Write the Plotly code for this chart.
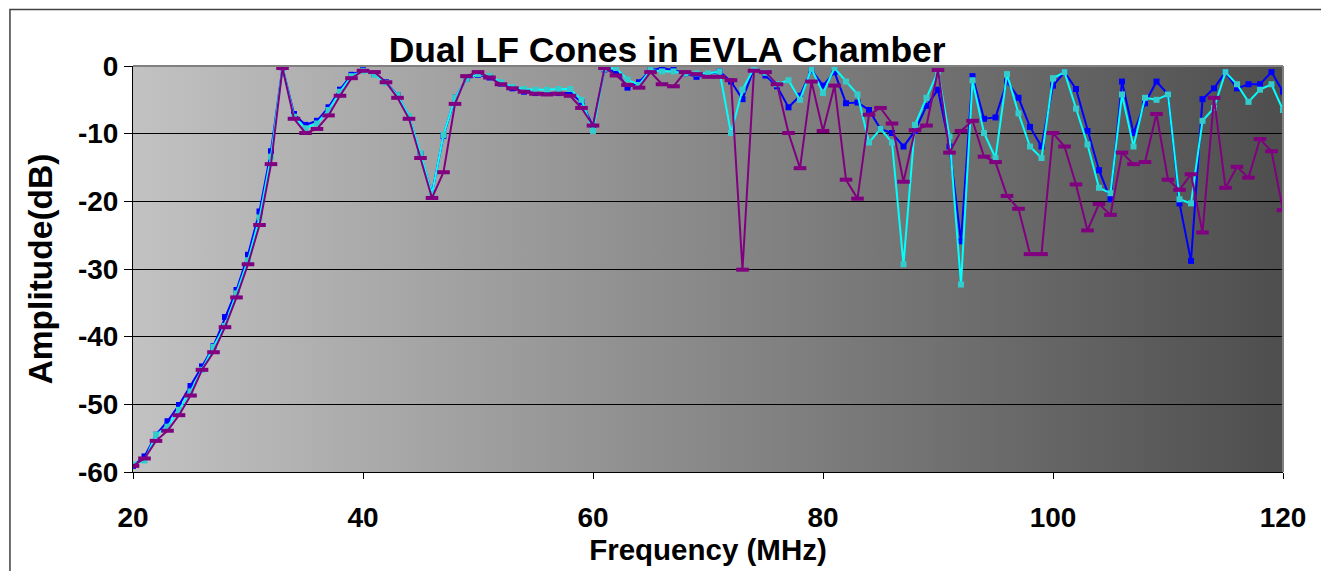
import base64
import plotly.graph_objects as go

# ---- data ----
freq_mhz = list(range(20, 122))

blue_db = [
    -59.1, -57.7, -54.5, -52.5, -50.1, -47.3, -44.4, -41.4, -37.1, -33.1,  # 20-29
    -27.9, -21.5, -12.6, -0.2, -7.1, -8.7, -8.1, -6.1, -3.5, -1.3,         # 30-39
    -0.6, -1.2, -2.4, -4.3, -7.5, -13.0, -18.8, -10.3, -4.7, -1.9,         # 40-49
    -1.3, -1.7, -2.6, -3.3, -3.8, -4.0, -4.0, -4.0, -4.0, -5.3,            # 50-59
    -8.9, -0.5, -0.8, -3.2, -2.4, -0.6, -0.3, -0.6, -1.1, -1.6,            # 60-69
    -1.2, -0.8, -2.3, -4.9, -0.4, -1.4, -3.0, -6.1, -4.4, -0.6,            # 70-79
    -2.9, -0.9, -5.5, -5.4, -6.5, -9.3, -9.9, -11.9, -9.6, -5.9,           # 80-89
    -3.5, -11.9, -25.9, -1.5, -7.8, -7.6, -2.3, -4.7, -9.0, -11.9,         # 90-99
    -2.9, -0.9, -3.4, -9.6, -15.4, -19.7, -2.3, -9.9, -5.5, -2.3,          # 100-109
    -4.2, -20.3, -28.8, -4.9, -3.3, -0.9, -3.3, -2.7, -2.7, -0.9,          # 110-119
    -3.8, -10.4,                                                            # 120-121
]

cyan_db = [
    -58.9, -58.3, -54.5, -53.3, -50.8, -48.1, -44.9, -41.5, -38.4, -33.6,
    -28.7, -22.4, -13.4, -0.1, -7.5, -9.2, -8.5, -6.5, -3.8, -1.5,
    -0.7, -1.3, -2.5, -4.3, -7.4, -12.9, -18.9, -10.2, -4.7, -1.9,
    -1.2, -1.5, -2.4, -3.1, -3.4, -3.5, -3.5, -3.4, -3.4, -5.0,
    -9.6, -0.4, -0.3, -2.0, -2.8, -0.6, -0.8, -0.8, -1.1, -1.1,
    -1.1, -0.8, -9.9, -3.5, -0.3, -1.0, -2.7, -2.1, -5.0, -0.4,
    -4.0, -0.3, -2.3, -4.2, -11.3, -9.3, -11.3, -29.3, -8.7, -4.7,
    -0.8, -10.4, -32.3, -2.1, -9.9, -13.6, -1.2, -7.0, -11.9, -13.6,
    -1.8, -0.9, -6.3, -11.6, -18.0, -18.8, -4.2, -11.9, -4.7, -5.0,
    -4.2, -19.7, -20.3, -8.1, -6.2, -0.9, -2.7, -5.3, -3.5, -2.7,
    -6.5, -15.0,
]

purple_db = [
    -59.1, -58.0, -55.4, -53.9, -51.6, -48.7, -44.9, -42.3, -38.6, -34.2,
    -29.3, -23.5, -14.5, -0.3, -7.8, -9.9, -9.3, -7.3, -4.4, -1.8,
    -0.7, -0.9, -2.4, -4.7, -7.8, -13.6, -19.5, -15.7, -5.6, -1.5,
    -0.9, -1.7, -2.7, -3.3, -3.8, -4.1, -4.2, -4.1, -4.4, -6.2,
    -8.8, -0.3, -1.4, -2.8, -3.2, -0.9, -2.7, -3.0, -0.9, -1.2,
    -1.6, -1.6, -2.1, -30.1, -0.7, -0.9, -2.7, -9.9, -15.1, -2.3,
    -9.6, -2.9, -16.8, -19.6, -7.2, -6.2, -8.5, -17.1, -9.5, -8.8,
    -0.6, -12.8, -9.6, -8.1, -13.4, -14.2, -19.2, -21.1, -27.8, -27.8,
    -9.9, -11.9, -17.5, -24.3, -20.4, -22.0, -12.8, -14.5, -14.2, -7.1,
    -16.8, -18.3, -16.0, -24.6, -4.7, -18.0, -14.9, -16.5, -10.8, -12.6,
    -21.3, -23.6,
]

x_tick_vals = [20, 40, 60, 80, 100, 120]
y_tick_vals = [0, -10, -20, -30, -40, -50, -60]
y_tick_text = ["0", "-10", "-20", "-30", "-40", "-50", "-60"]

# ---- figure ----
FONT = "Liberation Sans, Arial, sans-serif"

fig = go.Figure()
fig.add_trace(go.Scatter(
    x=freq_mhz, y=blue_db, mode="lines+markers", name="Blue",
    line=dict(color="#0000FF", width=2),
    marker=dict(symbol="square", size=6, color="#0000FF"),
))
fig.add_trace(go.Scatter(
    x=freq_mhz, y=cyan_db, mode="lines+markers", name="Cyan",
    line=dict(color="#00FFFF", width=2),
    marker=dict(symbol="square", size=6, color="#33CCCC"),
))
fig.add_trace(go.Scatter(
    x=freq_mhz, y=purple_db, mode="lines+markers", name="Purple",
    line=dict(color="#800080", width=2),
    marker=dict(symbol="line-ew", size=9, color="#800080",
                line=dict(color="#800080", width=4)),
))

svg = ('<svg xmlns="http://www.w3.org/2000/svg" width="1150" height="406" '
       'preserveAspectRatio="none"><defs><linearGradient id="g" x1="0" y1="0" '
       'x2="1" y2="0"><stop offset="0" stop-color="#C2C2C2"/>'
       '<stop offset="1" stop-color="#4E4E4E"/></linearGradient></defs>'
       '<rect width="1150" height="406" fill="url(#g)"/></svg>')
src = "data:image/svg+xml;base64," + base64.b64encode(svg.encode()).decode()

# the page adds an 8 px body margin, so margins are reduced by 8 on left/top
fig.update_layout(
    width=1329, height=571,
    margin=dict(l=125, r=54, t=58, b=107),
    paper_bgcolor="white",
    plot_bgcolor="rgba(0,0,0,0)",
    showlegend=False,
    font=dict(family=FONT, color="black"),
    title=dict(text="Dual LF Cones in EVLA Chamber", x=0.496, xref="container",
               xanchor="center", y=0.928, yref="container", yanchor="middle",
               font=dict(size=35.5, weight="bold", family=FONT, color="black")),
    images=[dict(source=src, xref="paper", yref="paper", x=0, y=1,
                 sizex=1, sizey=1, xanchor="left", yanchor="top",
                 sizing="stretch", layer="below")],
    shapes=[
        # plot-area border (top and right), grey
        dict(type="line", xref="paper", yref="paper", x0=0, x1=1, y0=1, y1=1,
             line=dict(color="#808080", width=2)),
        dict(type="line", xref="paper", yref="paper", x0=1, x1=1, y0=0, y1=1,
             line=dict(color="#808080", width=2)),
        # chart-area border
        dict(type="rect", xref="paper", yref="paper",
             x0=-0.1070, x1=1.0374, y0=-0.26, y1=1.1390,
             line=dict(color="#404040", width=1.5), fillcolor="rgba(0,0,0,0)"),
    ],
)

fig.update_xaxes(
    range=[20, 120], tickvals=x_tick_vals,
    ticks="outside", ticklen=6, tickwidth=1, tickcolor="black",
    showline=True, linecolor="black", linewidth=1,
    showgrid=False, zeroline=False,
    tickfont=dict(size=28, weight="bold", family=FONT, color="black"),
    ticklabelstandoff=14,
    title=dict(text="Frequency (MHz)", standoff=2,
               font=dict(size=29.5, weight="bold", family=FONT, color="black")),
)
fig.update_yaxes(
    range=[-60, 0], tickvals=y_tick_vals, ticktext=y_tick_text,
    ticks="outside", ticklen=8, tickwidth=1, tickcolor="black",
    showline=True, linecolor="black", linewidth=1,
    showgrid=True, gridcolor="black", gridwidth=1, zeroline=False,
    tickfont=dict(size=28, weight="bold", family=FONT, color="black"),
    title=dict(text="Amplitude(dB)", standoff=15,
               font=dict(size=33.5, weight="bold", family=FONT, color="black")),
)

fig.write_html("out.html")
